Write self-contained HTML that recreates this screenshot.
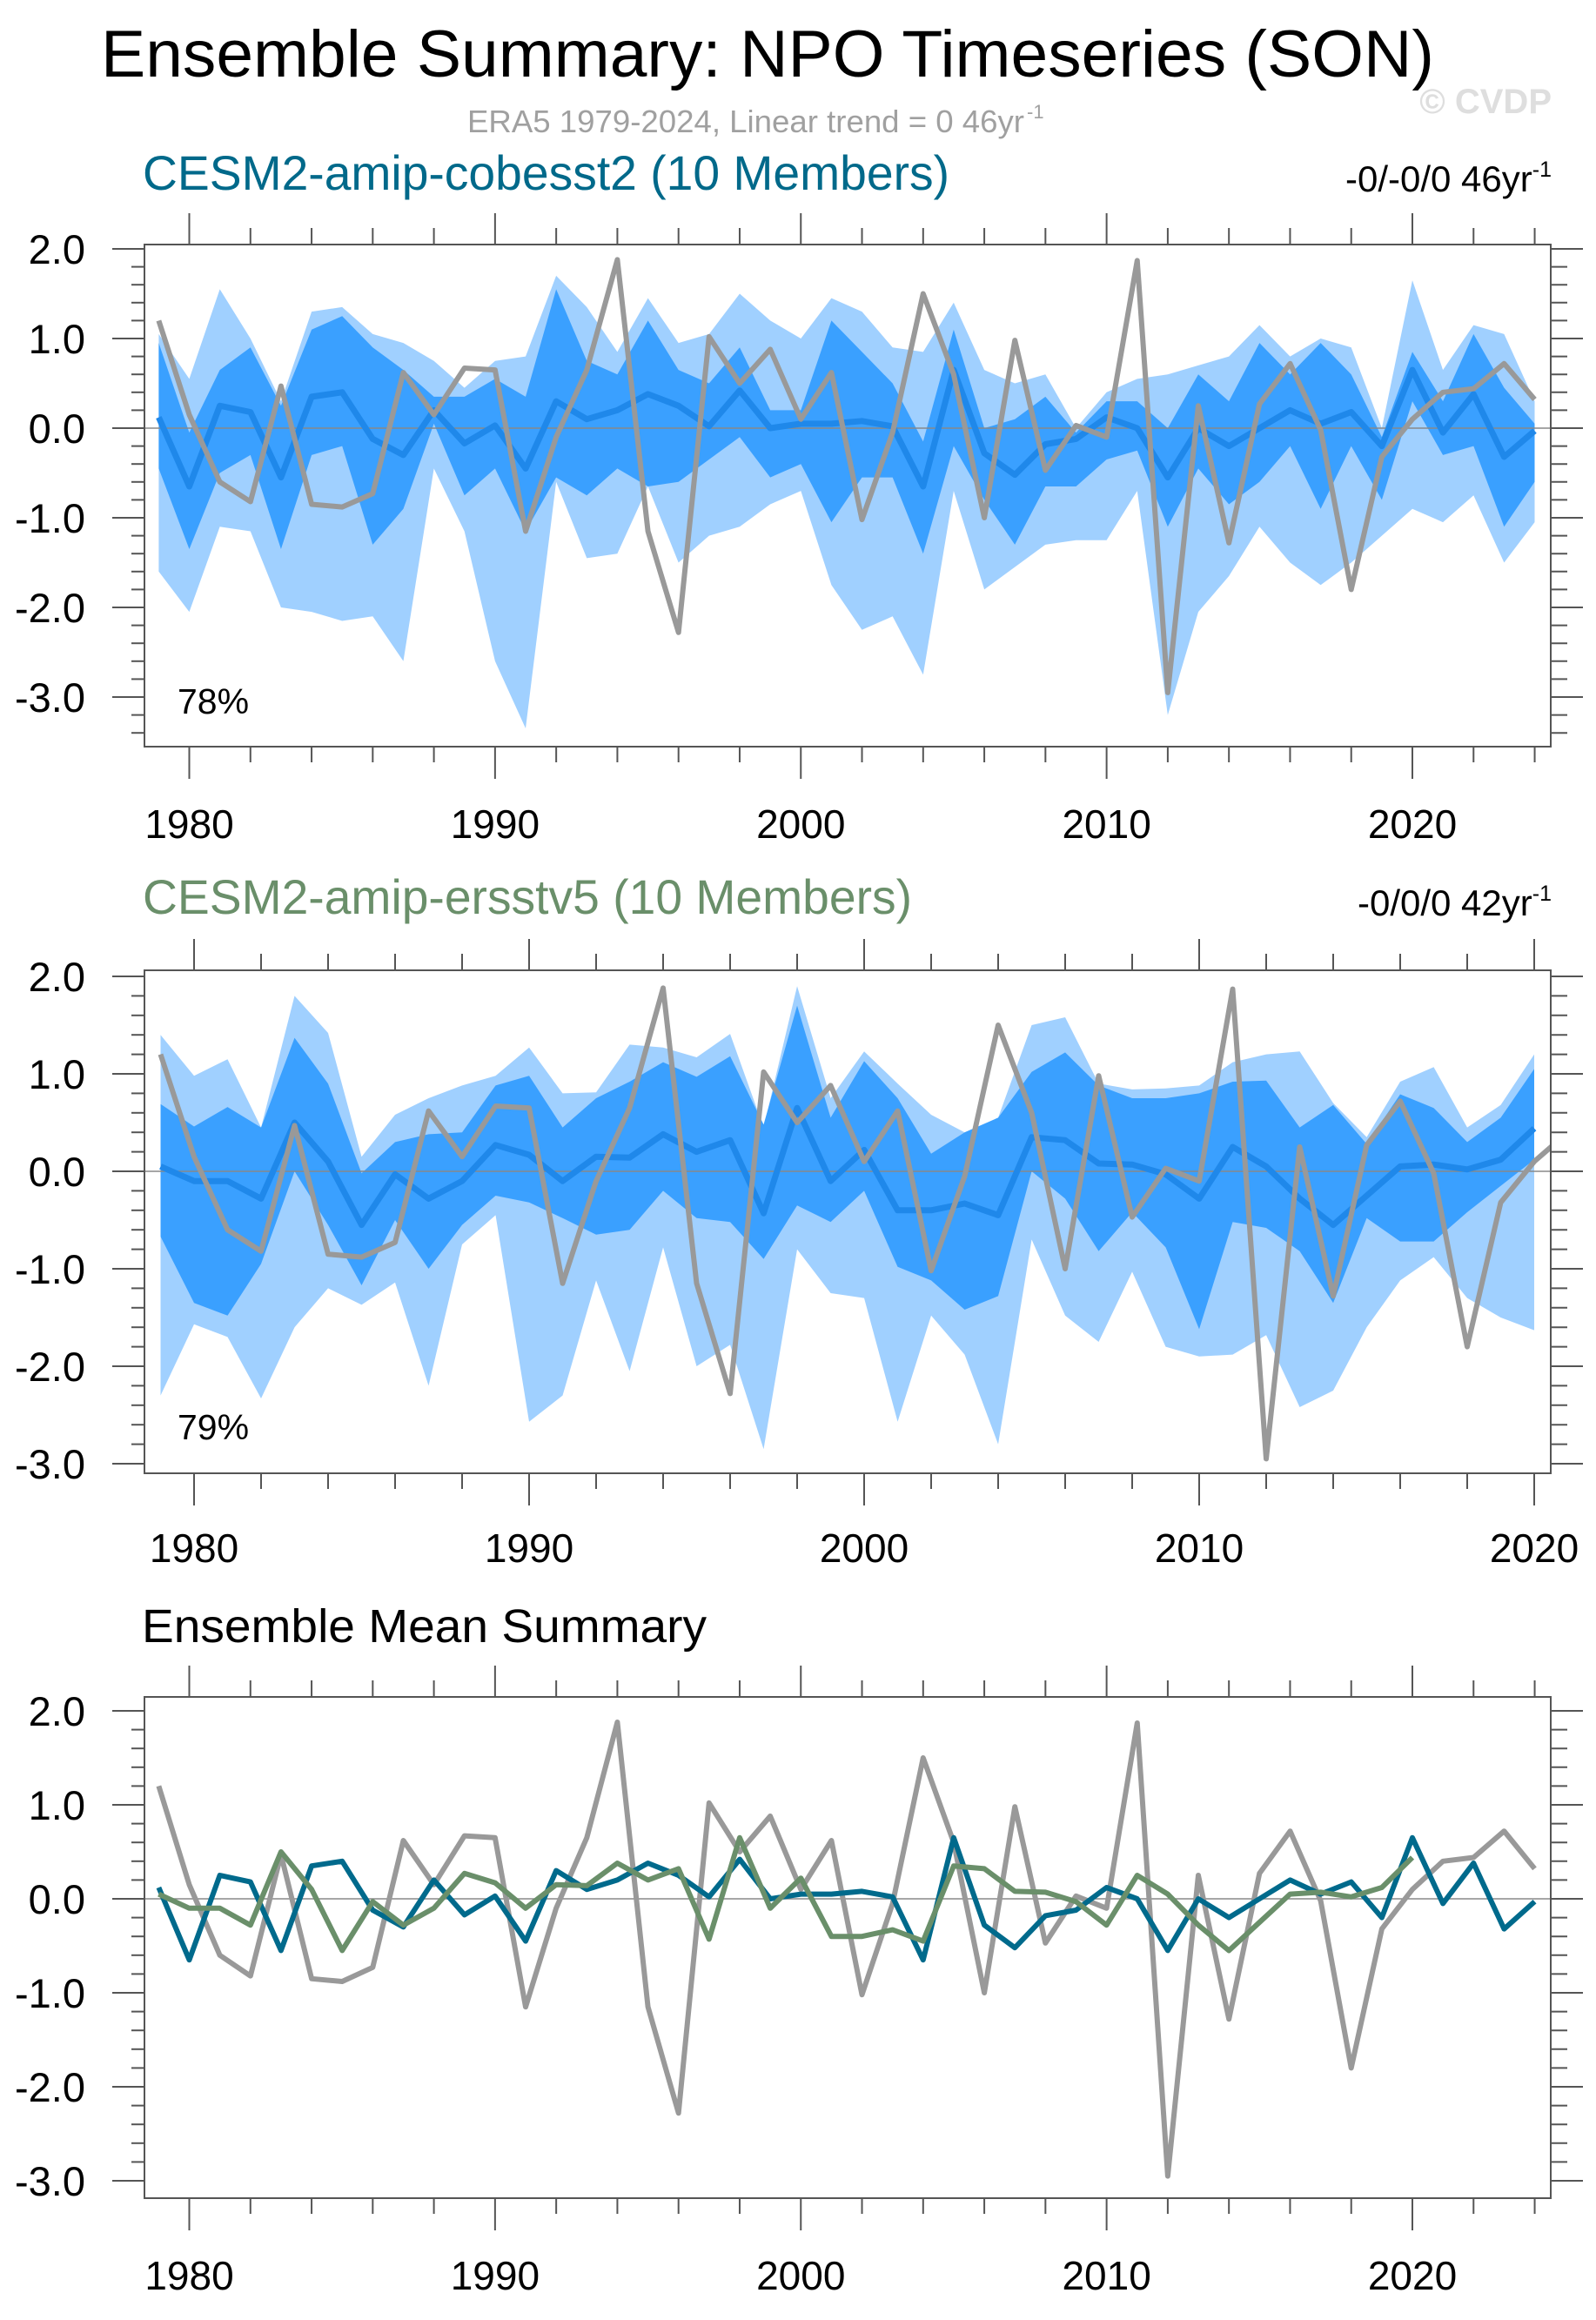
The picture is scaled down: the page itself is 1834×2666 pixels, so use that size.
<!DOCTYPE html>
<html><head><meta charset="utf-8"><style>
html,body{margin:0;padding:0;background:#fff;}
svg{display:block;font-family:"Liberation Sans",Arial,sans-serif;}
</style></head><body>
<svg id="chart" width="1834" height="2666" viewBox="0 0 1834 2666" xmlns="http://www.w3.org/2000/svg">
<text x="116" y="88" font-size="76" textLength="1532" lengthAdjust="spacingAndGlyphs">Ensemble Summary: NPO Timeseries (SON)</text>
<text x="537" y="152" font-size="36" fill="#a0a0a0" textLength="640" lengthAdjust="spacingAndGlyphs">ERA5 1979-2024, Linear trend = 0 46yr</text>
<text x="1180" y="136" font-size="22" fill="#a0a0a0">-1</text>
<text x="1783" y="130" font-size="40" font-weight="bold" fill="#dedede" text-anchor="end">© CVDP</text>

<text x="164" y="218" font-size="56" fill="#00698a" textLength="927" lengthAdjust="spacingAndGlyphs">CESM2-amip-cobesst2 (10 Members)</text>
<text x="1783" y="220" font-size="42" text-anchor="end">-0/-0/0 46yr<tspan font-size="25" dy="-17">-1</tspan></text>

<text x="164" y="1050" font-size="56" fill="#6a8f6a" textLength="884" lengthAdjust="spacingAndGlyphs">CESM2-amip-ersstv5 (10 Members)</text>
<text x="1783" y="1052" font-size="42" text-anchor="end">-0/0/0 42yr<tspan font-size="25" dy="-17">-1</tspan></text>

<text x="163" y="1887" font-size="54" textLength="649" lengthAdjust="spacingAndGlyphs">Ensemble Mean Summary</text>
<g id="plots"></g>
</svg>
<script>
// ---- data ----
const obsYears = [1979,1980,1981,1982,1983,1984,1985,1986,1987,1988,1989,1990,1991,1992,1993,1994,1995,1996,1997,1998,1999,2000,2001,2002,2003,2004,2005,2006,2007,2008,2009,2010,2011,2012,2013,2014,2015,2016,2017,2018,2019,2020,2021,2022,2023,2024];
const obsValues = [1.2,0.15,-0.6,-0.82,0.47,-0.85,-0.88,-0.73,0.62,0.15,0.67,0.65,-1.15,-0.1,0.65,1.88,-1.15,-2.28,1.02,0.5,0.88,0.1,0.62,-1.02,-0.05,1.5,0.6,-1.0,0.98,-0.47,0.03,-0.1,1.87,-2.95,0.25,-1.28,0.27,0.72,-0.02,-1.8,-0.32,0.1,0.4,0.44,0.72,0.32];

const cobYears = obsYears;
const cobMean = [0.12,-0.65,0.25,0.18,-0.55,0.35,0.4,-0.12,-0.3,0.2,-0.17,0.03,-0.45,0.3,0.1,0.2,0.38,0.25,0.02,0.42,0.0,0.05,0.05,0.08,0.02,-0.65,0.65,-0.28,-0.52,-0.18,-0.12,0.12,0.0,-0.55,0.0,-0.2,0.0,0.2,0.05,0.18,-0.2,0.65,-0.05,0.38,-0.32,-0.03];
const cobMax = [1.05,0.55,1.55,1.0,0.3,1.3,1.35,1.05,0.95,0.75,0.45,0.75,0.8,1.7,1.35,0.85,1.45,0.95,1.05,1.5,1.2,1.0,1.45,1.3,0.9,0.85,1.4,0.65,0.5,0.6,0.0,0.4,0.55,0.6,0.7,0.8,1.15,0.8,1.0,0.9,0.0,1.65,0.65,1.15,1.05,0.3];
const cobHi = [0.95,-0.05,0.65,0.9,0.25,1.1,1.25,0.9,0.65,0.35,0.35,0.55,0.35,1.55,0.75,0.6,1.2,0.65,0.5,0.9,0.2,0.2,1.2,0.85,0.5,-0.15,1.1,0.0,0.1,0.35,-0.05,0.3,0.3,0.0,0.6,0.3,0.95,0.6,0.95,0.6,-0.1,0.85,0.3,1.05,0.45,0.05];
const cobLo = [-0.45,-1.35,-0.5,-0.3,-1.35,-0.3,-0.2,-1.3,-0.9,0.05,-0.75,-0.45,-1.15,-0.55,-0.75,-0.45,-0.65,-0.6,-0.35,-0.1,-0.55,-0.4,-1.05,-0.55,-0.55,-1.4,-0.2,-0.8,-1.3,-0.65,-0.65,-0.35,-0.25,-1.1,-0.45,-0.85,-0.6,-0.2,-0.9,-0.2,-0.8,0.3,-0.3,-0.2,-1.1,-0.6];
const cobMin = [-1.6,-2.05,-1.1,-1.15,-2.0,-2.05,-2.15,-2.1,-2.6,-0.45,-1.15,-2.6,-3.35,-0.6,-1.45,-1.4,-0.65,-1.5,-1.2,-1.1,-0.85,-0.7,-1.75,-2.25,-2.1,-2.75,-0.7,-1.8,-1.55,-1.3,-1.25,-1.25,-0.7,-3.2,-2.05,-1.65,-1.1,-1.5,-1.75,-1.5,-1.2,-0.9,-1.05,-0.75,-1.5,-1.05];

const ersYears = [1979,1980,1981,1982,1983,1984,1985,1986,1987,1988,1989,1990,1991,1992,1993,1994,1995,1996,1997,1998,1999,2000,2001,2002,2003,2004,2005,2006,2007,2008,2009,2010,2011,2012,2013,2014,2015,2016,2017,2018,2019,2020];
const ersMean = [0.05,-0.1,-0.1,-0.28,0.5,0.1,-0.55,-0.03,-0.28,-0.1,0.27,0.17,-0.1,0.15,0.14,0.38,0.2,0.32,-0.43,0.65,-0.1,0.22,-0.4,-0.4,-0.33,-0.45,0.35,0.32,0.08,0.07,-0.03,-0.28,0.25,0.05,-0.28,-0.55,-0.25,0.05,0.07,0.02,0.12,0.44];
const ersMax = [1.4,0.98,1.15,0.45,1.8,1.42,0.15,0.58,0.75,0.88,0.98,1.27,0.8,0.81,1.3,1.27,1.17,1.41,0.45,1.9,0.75,1.23,0.9,0.58,0.4,0.55,1.5,1.58,0.9,0.84,0.85,0.88,1.12,1.2,1.23,0.7,0.35,0.92,1.07,0.45,0.68,1.2];
const ersHi = [0.69,0.46,0.66,0.45,1.37,0.9,-0.02,0.3,0.38,0.4,0.88,0.98,0.45,0.75,0.92,1.12,0.97,1.18,0.48,1.7,0.55,1.13,0.75,0.18,0.4,0.55,1.02,1.22,0.88,0.75,0.75,0.8,0.92,0.93,0.45,0.68,0.28,0.79,0.65,0.3,0.55,1.05];
const ersLo = [-0.67,-1.35,-1.48,-0.95,0.0,-0.55,-1.17,-0.5,-1.0,-0.55,-0.25,-0.32,-0.48,-0.65,-0.6,-0.2,-0.48,-0.52,-0.9,-0.35,-0.52,-0.2,-0.98,-1.12,-1.42,-1.28,0.0,-0.28,-0.82,-0.42,-0.78,-1.62,-0.52,-0.58,-0.82,-1.35,-0.48,-0.72,-0.72,-0.42,-0.15,0.12];
const ersMin = [-2.3,-1.57,-1.7,-2.33,-1.6,-1.2,-1.37,-1.14,-2.2,-0.75,-0.45,-2.57,-2.3,-1.12,-2.05,-0.78,-2.0,-1.78,-2.85,-0.8,-1.25,-1.3,-2.57,-1.48,-1.88,-2.8,-0.7,-1.48,-1.75,-1.03,-1.8,-1.9,-1.88,-1.68,-2.42,-2.25,-1.6,-1.12,-0.88,-1.3,-1.5,-1.63];

const yTickValues = [2,1,0,-1,-2,-3];
const yTickLabels = ["2.0","1.0","0.0","-1.0","-2.0","-3.0"];
const xTickYears = [1980,1990,2000,2010,2020];
const xTickLabels = ["1980","1990","2000","2010","2020"];

const panel1Pct = "78%";
const panel2Pct = "79%";

// ---- drawing ----
const NS = "http://www.w3.org/2000/svg";
const root = document.getElementById('plots');
function mk(tag, attrs, parent){
  const e = document.createElementNS(NS, tag);
  for (const k in attrs) e.setAttribute(k, attrs[k]);
  (parent||root).appendChild(e);
  return e;
}
const L = 166, R = 1782;

function panel(cfg){
  const g = mk('g', {});
  
  
  const yScale = v => cfg.y2 + (2 - v) * (cfg.ym3 - cfg.y2) / 5;
  const xScale = yr => cfg.x1980 + (yr - 1980) * (cfg.x2020 - cfg.x1980) / 40;
  const clipId = cfg.id + '-clip';
  const defs = mk('defs', {}, g);
  const cp = mk('clipPath', {id: clipId}, defs);
  mk('rect', {x: L, y: cfg.top, width: R - L, height: cfg.bottom - cfg.top}, cp);
  const pg = mk('g', {'clip-path': 'url(#' + clipId + ')'}, g);

  function band(years, lo, hi, fill, name){
    let d = '';
    years.forEach((yr,i)=>{ d += (i?'L':'M') + xScale(yr).toFixed(1) + ',' + yScale(hi[i]).toFixed(1); });
    for (let i = years.length-1; i>=0; i--) d += 'L' + xScale(years[i]).toFixed(1) + ',' + yScale(lo[i]).toFixed(1);
    const p = mk('path', {d: d + 'Z', fill: fill}, pg);
    
    
  }
  function line(years, vals, color, w, name){
    const pts = years.map((yr,i)=> xScale(yr).toFixed(1) + ',' + yScale(vals[i]).toFixed(1)).join(' ');
    const p = mk('polyline', {points: pts, fill: 'none', stroke: color, 'stroke-width': w, 'stroke-linejoin': 'round'}, pg);
    
    
  }
  if (cfg.bands) cfg.bands.forEach(b => band(b.years, b.lo, b.hi, b.fill, b.name));
  const zl = mk('line', {x1: L, x2: R, y1: yScale(0), y2: yScale(0), stroke: '#888', 'stroke-width': 1.5}, pg);
  
  
  cfg.lines.forEach(l => line(l.years, l.vals, l.color, l.w, l.name));

  const fr = mk('rect', {x: L, y: cfg.top, width: R - L, height: cfg.bottom - cfg.top, fill: 'none', stroke: '#555', 'stroke-width': 2}, g);
  
  

  const vMin = 2 - (cfg.bottom - cfg.y2) / ((cfg.ym3 - cfg.y2)/5);
  const vMax = 2 + (cfg.y2 - cfg.top) / ((cfg.ym3 - cfg.y2)/5);
  for (let k = Math.ceil(vMin*5-1e-6); k <= Math.floor(vMax*5+1e-6); k++){
    const v = k/5, y = yScale(v), major = (k % 5 === 0);
    mk('line', {x1: L - (major?37:15), x2: L, y1: y, y2: y, stroke: '#555', 'stroke-width': 2}, g);
    mk('line', {x1: R, x2: R + (major?37:19), y1: y, y2: y, stroke: '#555', 'stroke-width': 2}, g);
  }
  yTickValues.forEach((v,i)=>{
    const t = mk('text', {x: 98, y: yScale(v) + 17, 'font-size': 47, 'text-anchor': 'end'}, g);
    t.textContent = yTickLabels[i];
    
    
  });
  for (let yr = 1978; yr <= 2026; yr += 2){
    const x = xScale(yr);
    if (x < L - 0.5 || x > R + 0.5) continue;
    const major = (yr % 10 === 0);
    mk('line', {x1: x, x2: x, y1: cfg.top, y2: cfg.top - (major?36:19), stroke: '#555', 'stroke-width': 2}, g);
    mk('line', {x1: x, x2: x, y1: cfg.bottom, y2: cfg.bottom + (major?37:18), stroke: '#555', 'stroke-width': 2}, g);
  }
  xTickYears.forEach((yr,i)=>{
    const t = mk('text', {x: xScale(yr), y: cfg.xLabelY, 'font-size': 46, 'text-anchor': 'middle'}, g);
    t.textContent = xTickLabels[i];
    
    
  });
  if (cfg.pct){
    const t = mk('text', {x: 204, y: cfg.pctY, 'font-size': 41}, g);
    t.textContent = cfg.pct;
    
    
  }
}

const LIGHT = '#a0d0ff', DARK = '#3aa0ff', MEANBLUE = '#1f88ea', GRAY = '#999999', TEAL = '#006a8c', GREEN = '#6a8f6a';

panel({id:'panel1', top:281, bottom:858, y2:286, ym3:801, x1980:217.5, x2020:1623, xLabelY:963, pct:panel1Pct, pctY:820,
  bands:[{years:cobYears, lo:cobMin, hi:cobMax, fill:LIGHT, name:'cobesst2-range-band'},
         {years:cobYears, lo:cobLo, hi:cobHi, fill:DARK, name:'cobesst2-spread-band'}],
  lines:[{years:cobYears, vals:cobMean, color:MEANBLUE, w:7, name:'cobesst2-ensemble-mean-line'},
         {years:obsYears, vals:obsValues, color:GRAY, w:6, name:'era5-obs-line'}]});

panel({id:'panel2', top:1115, bottom:1693, y2:1122, ym3:1682, x1980:223, x2020:1763, xLabelY:1795, pct:panel2Pct, pctY:1654,
  bands:[{years:ersYears, lo:ersMin, hi:ersMax, fill:LIGHT, name:'ersstv5-range-band'},
         {years:ersYears, lo:ersLo, hi:ersHi, fill:DARK, name:'ersstv5-spread-band'}],
  lines:[{years:ersYears, vals:ersMean, color:MEANBLUE, w:7, name:'ersstv5-ensemble-mean-line'},
         {years:obsYears, vals:obsValues, color:GRAY, w:6, name:'era5-obs-line'}]});

panel({id:'panel3', top:1950, bottom:2526, y2:1966, ym3:2506, x1980:217.5, x2020:1623, xLabelY:2631,
  lines:[{years:obsYears, vals:obsValues, color:GRAY, w:6, name:'era5-obs-line'},
         {years:cobYears, vals:cobMean, color:TEAL, w:6, name:'cobesst2-mean-line'},
         {years:ersYears, vals:ersMean, color:GREEN, w:6, name:'ersstv5-mean-line'}]});
</script>
</body></html>
